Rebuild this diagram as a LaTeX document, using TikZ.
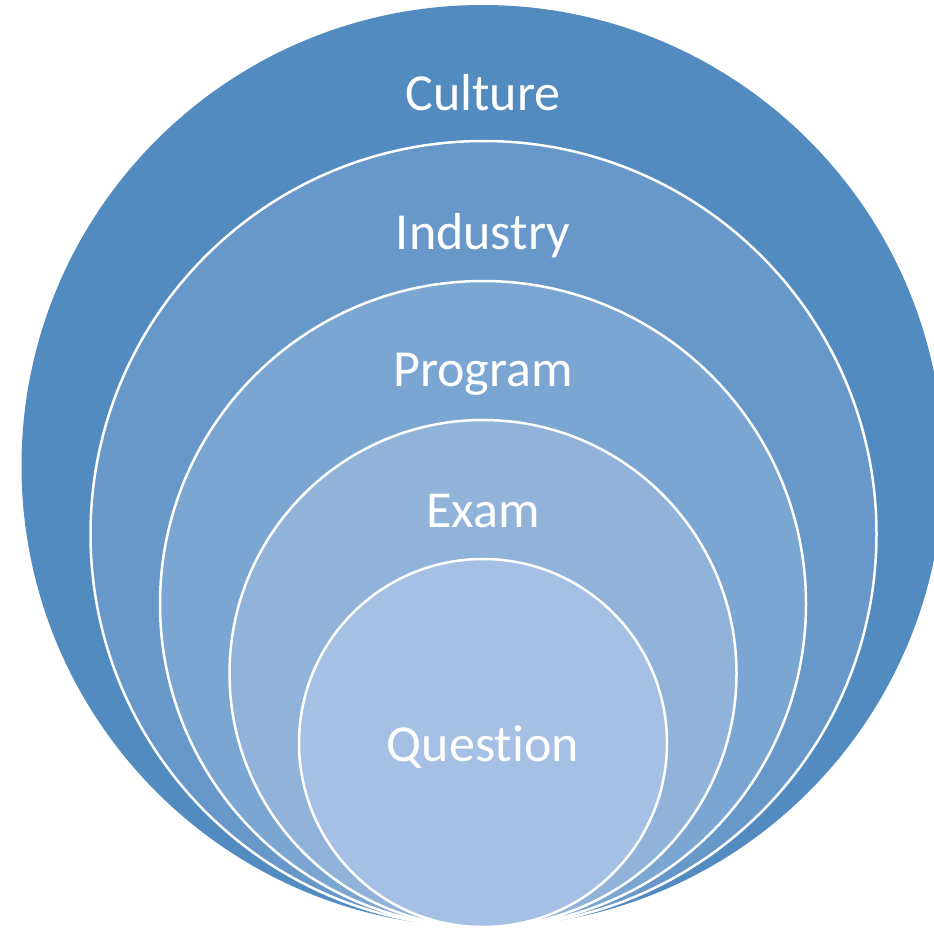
\documentclass[tikz,border=0pt]{standalone}
\usepackage{fontspec}
\setmainfont[Ligatures=NoCommon]{Carlito}
\definecolor{ringA}{RGB}{82,139,192}
\definecolor{ringB}{RGB}{103,152,201}
\definecolor{ringC}{RGB}{123,166,210}
\definecolor{ringD}{RGB}{145,179,218}
\definecolor{ringE}{RGB}{165,192,228}
\tikzset{
  ring/.style={draw=white, line width=2.5pt},
  lab/.style={text=white, anchor=base, font=\fontsize{52}{52}\selectfont}
}
\begin{document}
\begin{tikzpicture}[x=1pt,y=-1pt]
\useasboundingbox (0,0) rectangle (934,928);
\clip (0,0) rectangle (934,928);
\fill[ringA] (482.5,466) circle [radius=461];
\filldraw[ring, fill=ringB] (483.5,534) circle [radius=393];
\filldraw[ring, fill=ringC] (483,604) circle [radius=323];
\filldraw[ring, fill=ringD] (483,673.5) circle [radius=253.5];
\filldraw[ring, fill=ringE] (483,743) circle [radius=184];
\node[lab] (culture) at (483,111) {Culture};
\node[lab] (industry) at (483,249) {Industry};
\node[lab] (program) at (483,386) {Program};
\node[lab] (exam) at (483,527) {Exam};
\node[lab] (question) at (483,761) {Question};
\end{tikzpicture}
\end{document}
